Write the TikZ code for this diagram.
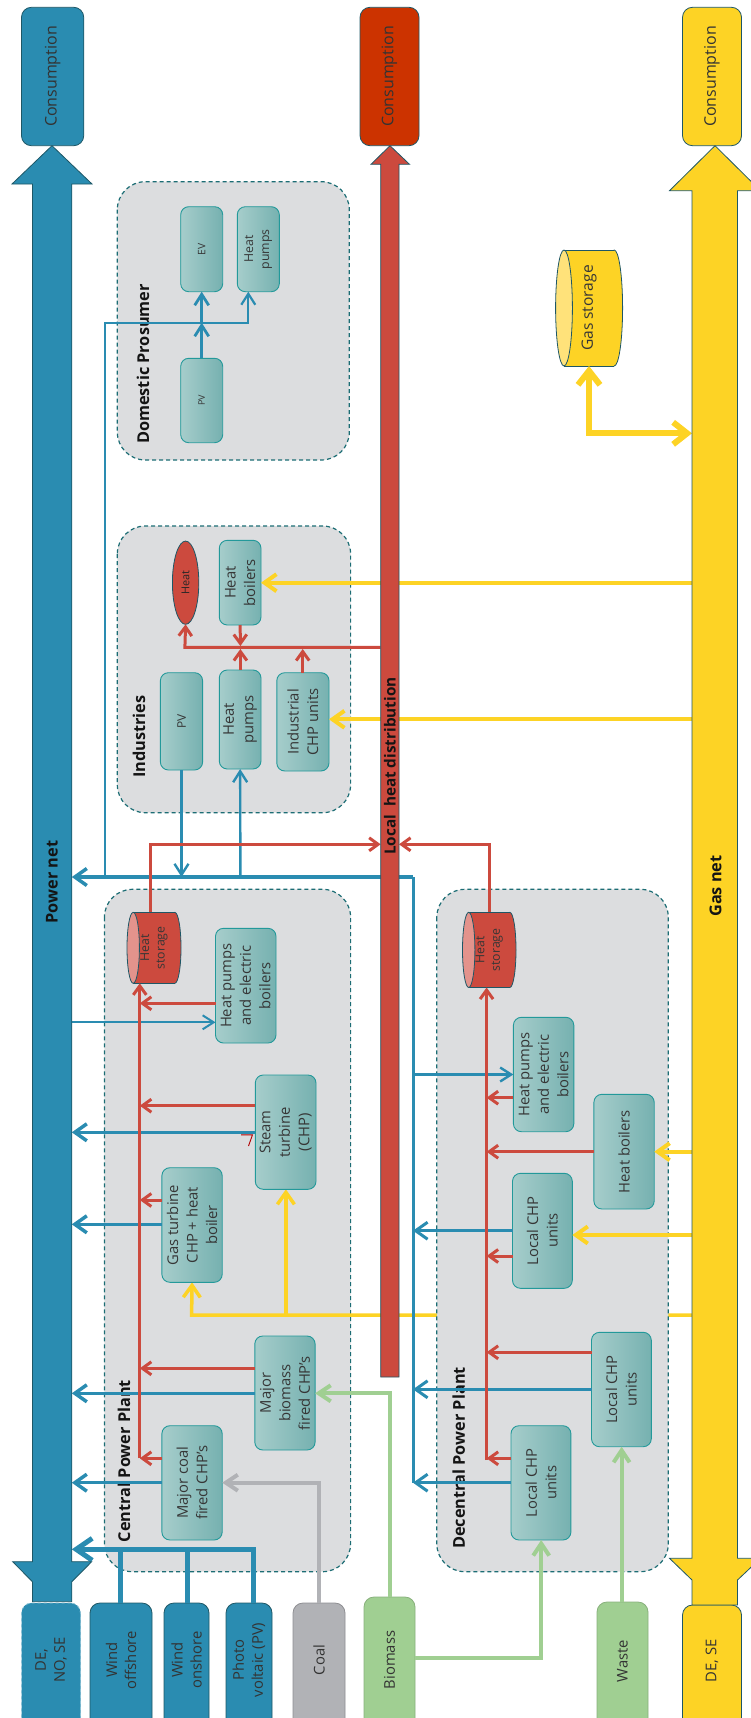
\documentclass[tikz,border=0pt]{standalone}
\usepackage{fontspec}
\setmainfont{Open Sans}
\usetikzlibrary{arrows.meta,shapes.geometric}
\definecolor{pw}{HTML}{2A8CB1}
\definecolor{ht}{HTML}{CC4A3E}
\definecolor{gs}{HTML}{FDD325}
\definecolor{cr}{HTML}{CC3300}
\definecolor{bm}{HTML}{A0CF92}
\definecolor{cl}{HTML}{B1B2B6}
\definecolor{bxL}{HTML}{A6CDCB}
\definecolor{bxR}{HTML}{76B1B0}
\definecolor{bxB}{HTML}{23999A}
\definecolor{grpF}{HTML}{DCDDDF}
\definecolor{grpB}{HTML}{1C6D74}
\definecolor{dk}{HTML}{1E5766}
\definecolor{txt}{HTML}{363636}
\definecolor{hsface}{HTML}{E3938C}
\definecolor{gsface}{HTML}{FFE27A}
\pgfdeclarelayer{bg}
\pgfdeclarelayer{mida}
\pgfdeclarelayer{midb}
\pgfsetlayers{bg,mida,midb,main}
\newcommand\bx[6]{%
  \node[box, minimum width={#4-#2}, minimum height={#5-#3}] (#1) at ({(#2+#4)/2},{(#3+#5)/2}) {};
  \node[btxt] at (#1) {#6};}
\newcommand\cyl[8]{%
  \pgfmathsetmacro\cya{(#3+#5)/2}%
  \pgfmathsetmacro\cry{(#5-#3)/2}%
  \draw[fill=#6, draw=dk, line width=0.8pt] (#4-#8,\cya) ellipse [x radius=#8, y radius=\cry];
  \fill[#6] (#2+#8,#3) rectangle (#4-#8,#5);
  \draw[dk, line width=0.8pt] (#2+#8,#3) -- (#4-#8,#3) (#2+#8,#5) -- (#4-#8,#5);
  \draw[dk, line width=0.8pt, fill=#7] (#2+#8,\cya) ellipse [x radius=#8, y radius=\cry];
  \node[inner sep=0pt, outer sep=0pt, minimum width={#4-#2}, minimum height={#5-#3}] (#1) at ({(#2+#4)/2},\cya) {};}
\begin{document}
\begin{tikzpicture}[x=1pt,y=-1pt,
  box/.style={draw=bxB, line width=0.9pt, rounded corners=8pt, left color=bxL, right color=bxR, inner sep=0pt, outer sep=0pt},
  btxt/.style={rotate=90, align=center, text=txt, inner sep=0pt, font=\fontsize{14.8}{19.5}\selectfont},
  grp/.style={draw=grpB, fill=grpF, line width=1.2pt, dash pattern=on 4pt off 3pt, rounded corners=28pt},
  ttl/.style={rotate=90, inner sep=0pt, font=\fontsize{16.3}{19}\selectfont\bfseries, text=black!92},
  src/.style={rounded corners=10pt, line width=0.8pt, draw=dk, inner sep=0pt, outer sep=0pt},
  stxt/.style={rotate=90, align=center, text=black!80, inner sep=0pt, font=\fontsize{14.8}{19}\selectfont},
  pl/.style={draw=pw, line width=3.5pt},
  pls/.style={draw=pw, line width=2.4pt},
  rl/.style={draw=ht, line width=3pt},
  yl/.style={draw=gs, line width=4pt},
  gl/.style={draw=bm, line width=4pt},
  cll/.style={draw=cl, line width=4pt},
  tipB/.style={-{Straight Barb[length=12pt,width=17pt]}},
  tipBs/.style={-{Straight Barb[length=11pt,width=14pt]}},
  tipR/.style={-{Straight Barb[length=9pt,width=13pt]}},
  tipY/.style={-{Straight Barb[length=12pt,width=17pt]}},
  tipG/.style={-{Straight Barb[length=12pt,width=16pt]}}
]
\useasboundingbox (0,0) rectangle (751,1718);
\clip (0,0) rectangle (751,1718);

% ---------- groups ----------
\begin{pgfonlayer}{bg}
\draw[grp] (117.3,181.7) rectangle (349.3,460);
\draw[grp] (117.3,526) rectangle (350.6,812.7);
\draw[grp] (104.4,889.3) rectangle (350.6,1571.7);
\end{pgfonlayer}
\begin{pgfonlayer}{midb}
\draw[grp] (436.8,889.3) rectangle (668.3,1571.7);
\end{pgfonlayer}

% ---------- domestic ----------
\bx{dPV}{180.7}{358.3}{222.7}{442.7}{}
\node[btxt, font=\fontsize{9}{11}\selectfont] at (dPV) {PV};
\bx{dEV}{180.7}{206.7}{222.7}{291.7}{}
\node[btxt, font=\fontsize{10.3}{12}\selectfont] at (dEV) {EV};
\bx{dHP}{237.3}{206.7}{279.3}{291.7}{}
\node[btxt, font=\fontsize{12.3}{16}\selectfont] at (dHP) {Heat\\pumps};
\node[ttl] at (143,364) {Domestic Prosumer};

% ---------- industries ----------
\node[ellipse, draw=dk, line width=0.8pt, fill=ht, minimum width=26.4pt, minimum height=83.3pt, inner sep=0pt, outer sep=0pt] (iHeat) at (185.6,582.7) {};
\node[btxt, font=\fontsize{10.9}{13}\selectfont, text=black!85] at (iHeat) {Heat};
\bx{iHB}{219.3}{540.3}{261}{625}{Heat\\boilers}
\bx{iPV}{160.4}{672.7}{202.6}{770}{}
\node[btxt, font=\fontsize{11.9}{14}\selectfont] at (iPV) {PV};
\bx{iHP}{219.3}{670}{261}{769}{Heat\\pumps}
\bx{iCHP}{276.8}{672.7}{329}{771}{Industrial\\CHP units}
\node[ttl] at (139,736.7) {Industries};

% ---------- central ----------
\cyl{cHS}{127}{912.3}{181}{983.3}{ht}{hsface}{6.2}
\node[btxt, font=\fontsize{12.3}{15.5}\selectfont] at (cHS) {Heat\\storage};
\bx{cHP}{215.5}{928.3}{276}{1043}{Heat pumps\\and electric\\boilers}
\bx{cST}{255.3}{1075}{316}{1189.3}{Steam\\turbine\\(CHP)}
\bx{cGT}{161.9}{1167.7}{222.2}{1282.3}{Gas turbine\\CHP + heat\\boiler}
\bx{cBM}{254.8}{1336}{315.1}{1450}{Major\\biomass\\fired CHP’s}
\bx{cCO}{161.9}{1425.7}{222.2}{1540}{Major coal\\fired CHP’s}
\node[ttl] at (124,1461) {Central Power Plant};

% ---------- decentral ----------
\cyl{eHS}{462.5}{912.3}{516}{987.5}{ht}{hsface}{6.2}
\node[btxt, font=\fontsize{12.3}{15.5}\selectfont] at (eHS) {Heat\\storage};
\bx{eHP}{513.4}{1017.3}{573.8}{1131.7}{Heat pumps\\and electric\\boilers}
\bx{eHB}{593.9}{1094.3}{654.2}{1209}{Heat boilers}
\bx{eCM}{512.5}{1173.3}{572.3}{1288.3}{Local CHP\\units}
\bx{eCR}{591.5}{1332.3}{651.3}{1446.7}{Local CHP\\units}
\bx{eCL}{511}{1425.7}{570.9}{1540}{Local CHP\\units}
\node[ttl] at (458.8,1458) {Decentral Power Plant};

% ---------- gas storage ----------
\cyl{gSt}{555.6}{250}{622.6}{366}{gs}{gsface}{8.4}
\node[btxt, font=\fontsize{15.6}{19}\selectfont] at (gSt) {Gas storage};

% ---------- sources (bottom) ----------
\node[src, fill=pw, draw=pw!55!white, dashed, minimum width=59pt, minimum height=150pt] (bDE) at (51,1678) {};
\node[src, fill=pw, minimum width=62pt, minimum height=150pt] (bWoff) at (121,1678) {};
\node[src, fill=pw, minimum width=45pt, minimum height=150pt] (bWon) at (186.5,1678) {};
\node[src, fill=pw, minimum width=46pt, minimum height=150pt] (bPV) at (249,1678) {};
\node[src, fill=cl, draw=cl!80!black, minimum width=52pt, minimum height=150pt] (bCoal) at (319,1678) {};
\node[src, fill=bm, draw=bm!85!black, minimum width=51pt, minimum height=162pt] (bBio) at (389.5,1678) {};
\node[src, fill=bm, draw=bm!85!black, minimum width=51pt, minimum height=152pt] (bWaste) at (622.5,1678) {};
\node[src, fill=gs, minimum width=59pt, minimum height=146pt] (bDESE) at (712,1678) {};
\node[stxt] at (51,1660) {DE,\\NO, SE};
\node[stxt] at (121,1660) {Wind\\offshore};
\node[stxt] at (186.5,1660) {Wind\\onshore};
\node[stxt] at (249,1660) {Photo\\voltaic (PV)};
\node[stxt] at (319,1660) {Coal};
\node[stxt] at (389.5,1660) {Biomass};
\node[stxt] at (622.5,1661) {Waste};
\node[stxt] at (712,1661) {DE, SE};

% ---------- consumption ----------
\node[src, fill=pw, minimum width=62.3pt, minimum height=138.4pt] (kP) at (52.6,76.5) {};
\node[src, fill=cr, minimum width=59pt, minimum height=138.4pt] (kH) at (389.5,76.5) {};
\node[src, fill=gs, minimum width=59pt, minimum height=138.4pt] (kG) at (712,76.5) {};
\node[stxt, font=\fontsize{16}{19}\selectfont] at (kP) {Consumption};
\node[stxt, font=\fontsize{16}{19}\selectfont] at (kH) {Consumption};
\node[stxt, font=\fontsize{16}{19}\selectfont] at (kG) {Consumption};

% ---------- junction coordinates ----------
\coordinate (jD) at (201.7,322.7);
\coordinate (jP) at (413,877);
\coordinate (pnR) at (71.8,877);
\coordinate (gnL) at (692,433.3);

% ---------- yellow line behind decentral group ----------
\begin{pgfonlayer}{mida}
\draw[yl, line width=3.5pt, tipY] (692,1315) -- (191.6,1315) -- (cGT.south);
\draw[yl, line width=3.5pt, tipY] (285.9,1315) -- (285.9,1189.3);
\end{pgfonlayer}

% ---------- blue connectors ----------
\draw[pl, line width=2.8pt, tipBs] (dPV.north) -- (jD);
\draw[pl, line width=2.8pt, tipBs] (jD) -- (dEV.south);
\draw[pls, line width=2.2pt, tipBs] (jD) -- (248.3,322.7) -- (248.3,291.7);
\draw[pls, line width=2.2pt] (jD) -- (105,322.7) -- (105,877);
\draw[pl, tipB] (jP) -- (pnR);
\draw[pls, tipBs] (iPV.south) -- (iPV.south |- jP);
\draw[pls, tipBs] (240.4,877) -- (iHP.south);
\draw[pl, line width=3pt] (jP) -- (413,1482.7);
\draw[pl, line width=3pt, tipB] (eCL.west |- 0,1482.7) -- (413,1482.7);
\draw[pl, line width=3pt, tipB] (eCR.west |- 0,1389.3) -- (413,1389.3);
\draw[pl, line width=3pt, tipB] (eCM.west |- 0,1230.7) -- (413,1230.7);
\draw[pls, tipBs] (413,1074.5) -- (eHP.west |- 0,1074.5);
\draw[pls, line width=2pt, tipBs] (71.8,1022.3) -- (cHP.west |- 0,1022.3);
\draw[pl, tipB] (cST.west |- 0,1132.3) -- (71.8,1132.3);
\draw[pl, tipB] (cGT.west |- 0,1224.3) -- (71.8,1224.3);
\draw[pl, tipB] (cBM.west |- 0,1393.3) -- (71.8,1393.3);
\draw[pl, tipB] (cCO.west |- 0,1482.7) -- (71.8,1482.7);
\draw[pl, line width=5pt] (bWoff.north -| 120.7,0) -- (120.7,1549.3);
\draw[pl, line width=5pt] (bWon.north -| 187,0) -- (187,1549.3);
\draw[pl, line width=5pt, -{Straight Barb[length=16pt,width=22pt]}] (bPV.north -| 253.8,0) -- (253.8,1549.3) -- (71.8,1549.3);
\draw[draw=red!70!black, line width=0.9pt] (241,1134.8) -- (252.5,1134.8) -- (248.5,1146);

% ---------- red connectors ----------
\draw[rl, tipR] (380.7,647.3) -- (184.9,647.3) -- (iHeat.south);
\draw[rl, tipR] (iHB.south) -- (240.4,646);
\draw[rl, tipR] (iHP.north -| 240.4,0) -- (240.4,649);
\draw[rl, tipR] (iCHP.north -| 302.7,0) -- (302.7,649);
\draw[rl, tipR] (cHS.north -| 150,0) -- (150,844.3) -- (380.7,844.3);
\draw[rl, tipR] (eHS.north -| 489.5,0) -- (489.5,844.3) -- (399,844.3);
\draw[rl, tipR] (139.8,1458.3) -- (cHS.south -| 139.8,0);
\draw[rl, tipR] (cCO.west |- 0,1458.3) -- (139.8,1458.3);
\draw[rl, tipR] (cBM.west |- 0,1368.3) -- (139.8,1368.3);
\draw[rl, tipR] (cGT.west |- 0,1200) -- (139.8,1200);
\draw[rl, tipR] (cST.west |- 0,1105.7) -- (139.8,1105.7);
\draw[rl, tipR] (cHP.west |- 0,1003.3) -- (139.8,1003.3);
\draw[rl, tipR] (486.6,1460) -- (eHS.south -| 486.6,0);
\draw[rl, tipR] (eHP.west |- 0,1097.7) -- (486.6,1097.7);
\draw[rl, tipR] (eHB.west |- 0,1151.7) -- (486.6,1151.7);
\draw[rl, tipR] (eCM.west |- 0,1256) -- (486.6,1256);
\draw[rl, tipR] (eCR.west |- 0,1352.3) -- (486.6,1352.3);
\draw[rl, tipR] (eCL.west |- 0,1458.3) -- (486.6,1458.3);

% ---------- yellow connectors ----------
\draw[yl, tipY] (692,582.7) -- (iHB.east |- 0,582.7);
\draw[yl, tipY] (692,719.3) -- (iCHP.east |- 0,719.3);
\draw[yl, line width=6pt, {Straight Barb[length=14pt,width=22pt]}-{Straight Barb[length=14pt,width=22pt]}] (gSt.south -| 589,0) -- (589,433.3) -- (gnL);
\draw[yl, tipY] (692,1151.7) -- (eHB.east |- 0,1151.7);
\draw[yl, tipY] (692,1235) -- (eCM.east |- 0,1235);

% ---------- gray / green connectors ----------
\draw[cll, tipG] (bCoal.north -| 319.4,0) -- (319.4,1482.7) -- (cCO.east |- 0,1482.7);
\draw[gl, tipG] (bBio.north -| 390.3,0) -- (390.3,1393.3) -- (cBM.east |- 0,1393.3);
\draw[gl, tipG] (bBio.east |- 0,1658.3) -- (541.2,1658.3) -- (eCL.south -| 541.2,0);
\draw[gl, tipG] (bWaste.north -| 621.6,0) -- (eCR.south -| 621.6,0);

% ---------- big arrows ----------
\draw[fill=pw, draw=dk, line width=0.8pt] (32.4,1601.7) -- (32.4,1581.7) -- (12.7,1561.7) -- (32.4,1561.7) -- (32.4,184) -- (12,184) -- (52,145.7) -- (92,184) -- (71.8,184) -- (71.8,1561.7) -- (91.7,1561.7) -- (71.8,1581.7) -- (71.8,1601.7) -- cycle;
\draw[fill=ht, draw=dk, line width=0.8pt] (380.7,1377) -- (380.7,164.3) -- (371,164.3) -- (390,145.7) -- (409.5,164.3) -- (399,164.3) -- (399,1377) -- cycle;
\draw[fill=gs, draw=dk, line width=0.8pt] (692,1605) -- (692,1580) -- (669.5,1558.3) -- (692,1558.3) -- (692,190.7) -- (669.5,190.7) -- (715,145.7) -- (760.5,190.7) -- (737.5,190.7) -- (737.5,1558.3) -- (760.5,1558.3) -- (737.5,1580) -- (737.5,1605) -- cycle;
\node[ttl] at (52,882) {Power net};
\node[ttl] at (715.5,886) {Gas net};
\node[ttl, font=\fontsize{15.3}{18}\selectfont\bfseries] at (390,766) {Local\ \ heat distribution};
\end{tikzpicture}
\end{document}
